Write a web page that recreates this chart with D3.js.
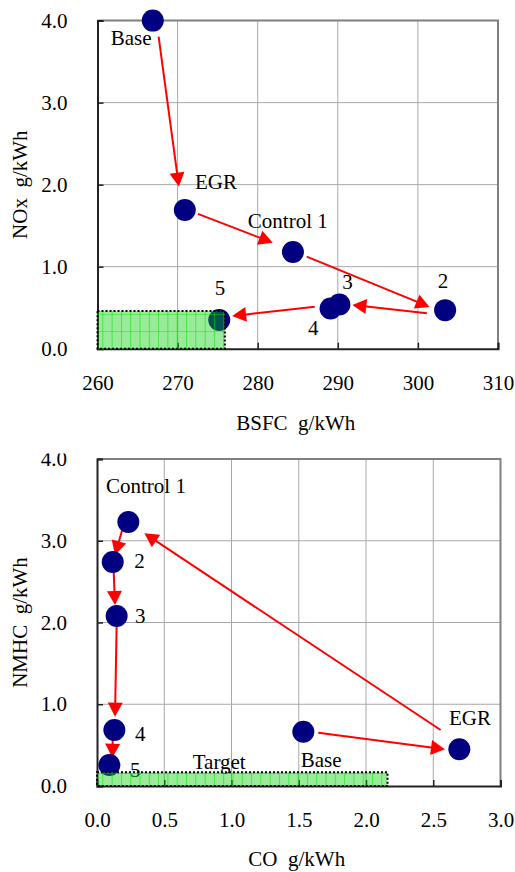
<!DOCTYPE html>
<html><head><meta charset="utf-8">
<script src="https://cdn.jsdelivr.net/npm/d3@7"></script>
<style>svg text{font-family:'Liberation Serif';}</style>
</head>
<body style="margin:0">
<svg id="c" width="515" height="872" font-family="Liberation Serif"></svg>
<script>
// ---------- Top chart data (BSFC vs NOx) ----------
const topNames = ["Base","EGR","Control 1","2","3","4","5"];
const topBSFC  = [266.9, 270.9, 284.4, 303.4, 290.2, 289.1, 275.2];
const topNOx   = [4.00, 1.69, 1.18, 0.47, 0.54, 0.49, 0.35];
const topXTicks = [260,270,280,290,300,310];
const topYTicks = [0,1,2,3,4];
// arrows: [x1,y1,x2,y2] in data units (start, tip)
const topArrows = [
  [267.63,3.805,270.16,1.976],
  [272.53,1.643,281.88,1.293],
  [286.12,1.122,301.46,0.509],
  [301.12,0.432,291.82,0.533],
  [287.12,0.512,276.81,0.399]
];
// labels: text, x, y (baseline-left, data units)
const topLabelText = ["Base","EGR","Control 1","2","3","4","5"];
const topLabelX = [261.65,272.16,278.77,302.49,290.57,286.28,274.65];
const topLabelY = [3.70,1.948,1.468,0.737,0.724,0.167,0.655];
const topTarget = {x0:260, x1:275.9, y0:0, y1:0.46};

// ---------- Bottom chart data (CO vs NMHC) ----------
const botNames = ["Control 1","2","3","4","5","Base","EGR"];
const botCO    = [0.233, 0.117, 0.146, 0.129, 0.092, 1.534, 2.694];
const botNMHC  = [3.23, 2.74, 2.08, 0.685, 0.257, 0.664, 0.449];
const botXTicks = [0,0.5,1,1.5,2,2.5,3];
const botYTicks = [0,1,2,3,4];
const botArrows = [
  [1.645,0.652,2.587,0.449],
  [2.555,0.685,0.352,3.091],
  [0.191,3.152,0.134,2.826],
  [0.124,2.621,0.134,2.214],
  [0.146,1.969,0.134,0.848],
  [0.117,0.571,0.114,0.346]
];
const botLabelText = ["Control 1","2","3","4","5","Target","Base","EGR"];
const botLabelX = [0.067,0.277,0.283,0.283,0.245,0.712,1.515,2.617];
const botLabelY = [3.580,2.663,1.998,0.554,0.114,0.208,0.236,0.746];
const botTarget = {x0:0, x1:2.16, y0:0, y1:0.168};

const svg = d3.select("#c");
const defs = svg.append("defs");
const pat = defs.append("pattern").attr("id","tgt").attr("patternUnits","userSpaceOnUse")
  .attr("width",9.3).attr("height",17);
pat.append("rect").attr("width",9.3).attr("height",17).attr("fill","rgb(0,205,0)").attr("fill-opacity",0.4);
pat.append("line").attr("x1",0.5).attr("x2",0.5).attr("y1",0).attr("y2",17).attr("stroke","rgb(0,230,0)").attr("stroke-opacity",0.55).attr("stroke-width",1);
pat.append("line").attr("x1",0).attr("x2",9.3).attr("y1",8.5).attr("y2",8.5).attr("stroke","rgb(0,230,0)").attr("stroke-opacity",0.4).attr("stroke-width",1);

defs.append("clipPath").attr("id","botclip").append("rect")
  .attr("x",0).attr("y",453.5).attr("width",515).attr("height",420);

function styleText(sel){
  return sel.attr("font-size",21).attr("font-family","Liberation Serif")
    .style("font-family","'Liberation Serif'").attr("fill","#000");
}

function chart(g, o){
  const x = d3.scaleLinear().domain(o.xd).range([o.l,o.r]);
  const y = d3.scaleLinear().domain(o.yd).range([o.b,o.t]);
  g.selectAll(".gx").data(o.xt.slice(1,-1)).join("line")
    .attr("x1",d=>x(d)).attr("x2",d=>x(d)).attr("y1",o.t).attr("y2",o.b)
    .attr("stroke","#a8a8a8").attr("stroke-width",1);
  g.selectAll(".gy").data(o.yt.slice(1,-1)).join("line")
    .attr("y1",d=>y(d)).attr("y2",d=>y(d)).attr("x1",o.l).attr("x2",o.r)
    .attr("stroke","#a8a8a8").attr("stroke-width",1);
  g.append("path").attr("d",`M${o.l},${o.t}H${o.r}V${o.b}`).attr("fill","none")
    .attr("stroke","#808080").attr("stroke-width",2);
  const ya = d3.axisLeft(y).tickValues(o.yt).tickSize(-6).tickFormat(d3.format(".1f")).tickPadding(30);
  const yg = g.append("g").attr("transform",`translate(${o.l},0)`).call(ya);
  yg.attr("font-family","Liberation Serif").attr("font-size",21);
  yg.select(".domain").attr("stroke","#222").attr("stroke-width",2);
  yg.selectAll(".tick line").attr("stroke","#222").attr("stroke-width",1.5);
  styleText(yg.selectAll(".tick text"));
  const xa = d3.axisBottom(x).tickValues(o.xt).tickSize(-6).tickFormat(o.xf).tickPadding(26);
  const xg = g.append("g").attr("transform",`translate(0,${o.b})`).call(xa);
  xg.attr("font-family","Liberation Serif").attr("font-size",21);
  xg.select(".domain").attr("stroke","#222").attr("stroke-width",2);
  xg.selectAll(".tick line").attr("stroke","#222").attr("stroke-width",1.5);
  styleText(xg.selectAll(".tick text"));
  const ag = g.append("g");
  o.arrows.forEach(a=>{
    const x1=x(a[0]), y1=y(a[1]), x2=x(a[2]), y2=y(a[3]);
    const dx=x2-x1, dy=y2-y1, L=Math.hypot(dx,dy), ux=dx/L, uy=dy/L;
    const hl=14, hw=7.5;
    const bx=x2-ux*hl, by=y2-uy*hl;
    ag.append("line").attr("x1",x1).attr("y1",y1).attr("x2",bx+ux*2).attr("y2",by+uy*2)
      .attr("stroke","#ff0000").attr("stroke-width",2);
    ag.append("path").attr("d",`M${x2},${y2}L${bx-uy*hw},${by+ux*hw}L${bx+uy*hw},${by-ux*hw}Z`)
      .attr("fill","#ff0000");
  });
  g.selectAll(".pt").data(o.px.map((v,i)=>[v,o.py[i]])).join("circle")
    .attr("cx",d=>x(d[0])).attr("cy",d=>y(d[1])).attr("r",11).attr("fill","#000080");
  styleText(g.selectAll(".lb").data(o.lt.map((t,i)=>[t,o.lx[i],o.ly[i]])).join("text")
    .attr("x",d=>x(d[1])).attr("y",d=>y(d[2])).text(d=>d[0]));
  const T=o.target;
  g.append("rect").attr("x",x(T.x0)).attr("y",y(T.y1)).attr("width",x(T.x1)-x(T.x0)).attr("height",y(T.y0)-y(T.y1))
    .attr("fill","url(#tgt)").attr("stroke","#000").attr("stroke-width",2).attr("stroke-dasharray","2,2");
  styleText(g.append("text").attr("x",(o.l+o.r)/2-2).attr("y",o.xTitleY).attr("text-anchor","middle")
    .text(o.xTitle.replace("  ","\u00a0\u00a0")));
  styleText(g.append("text").attr("transform",`translate(27,${(o.t+o.b)/2}) rotate(-90)`).attr("text-anchor","middle")
    .text(o.yTitle.replace("  ","\u00a0\u00a0")));
}

chart(svg.append("g"), {
  xd:[260,310], yd:[0,4], l:97.5, r:498, t:20.6, b:348.7,
  xt:topXTicks, yt:topYTicks, xf:d3.format("d"),
  arrows:topArrows, px:topBSFC, py:topNOx,
  lt:topLabelText, lx:topLabelX, ly:topLabelY, target:topTarget,
  xTitle:"BSFC  g/kWh", xTitleY:430, yTitle:"NOx  g/kWh"
});
chart(svg.append("g").attr("clip-path","url(#botclip)"), {
  xd:[0,3], yd:[0,4], l:97, r:500.5, t:459, b:786,
  xt:botXTicks, yt:botYTicks, xf:d3.format(".1f"),
  arrows:botArrows, px:botCO, py:botNMHC,
  lt:botLabelText, lx:botLabelX, ly:botLabelY, target:botTarget,
  xTitle:"CO  g/kWh", xTitleY:866, yTitle:"NMHC  g/kWh"
});

// re-apply the font once it is ready, to force a fresh layout
if (document.fonts && document.fonts.load) {
  document.fonts.load("21px 'Liberation Serif'").then(()=>{
    svg.selectAll("text").style("font-family",null).style("font-family","'Liberation Serif'");
  }).catch(()=>{});
}
</script></body></html>
